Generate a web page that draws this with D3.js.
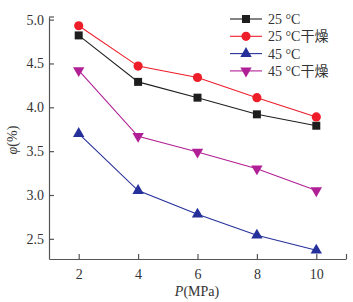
<!DOCTYPE html>
<html>
<head>
<meta charset="utf-8">
<script src="https://cdn.jsdelivr.net/npm/d3@7"></script>
<style>
  body { margin: 0; background: #fff; }
  text { font-family: "Liberation Serif", "Noto Sans CJK SC", serif; fill: #333; }
</style>
</head>
<body>
<script>
// data
var pressures = [2, 4, 6, 8, 10];
var seriesNames = ["25 °C", "25 °C干燥", "45 °C", "45 °C干燥"];
var v25 = [4.82, 4.29, 4.11, 3.92, 3.79];
var v25dry = [4.93, 4.47, 4.34, 4.11, 3.89];
var v45 = [3.70, 3.05, 2.78, 2.54, 2.37];
var v45dry = [4.42, 3.67, 3.49, 3.30, 3.05];
var xTicks = [2, 4, 6, 8, 10];
var yTicks = [2.5, 3.0, 3.5, 4.0, 4.5, 5.0];

var width = 353, height = 302;
var svg = d3.select("body").append("svg")
  .attr("width", width)
  .attr("height", height);

// scales
var x = d3.scaleLinear().domain([1, 11]).range([49, 346]);
var y = d3.scaleLinear().domain([2.27, 5.03]).range([259, 17]);

var axisColor = "#555";

// axes
var xAxis = svg.append("g")
  .attr("transform", "translate(0," + y(2.27) + ")")
  .call(d3.axisBottom(x).tickValues(xTicks.concat([11])).tickSizeInner(-5).tickSizeOuter(0)
    .tickFormat(function (d) { return d === 11 ? "" : d; }));
xAxis.selectAll("text").attr("y", 10).style("font-size", "14px");

var yAxis = svg.append("g")
  .attr("transform", "translate(" + x(1) + ",0)")
  .call(d3.axisLeft(y).tickValues(yTicks).tickSizeInner(-5).tickSizeOuter(0)
    .tickFormat(d3.format(".1f")));
yAxis.selectAll("text").attr("x", -5).style("font-size", "14px");

svg.selectAll(".domain, .tick line").attr("stroke", axisColor).attr("stroke-width", 1.2);
svg.selectAll(".tick text").style("fill", "#333").style("font-family", "Liberation Serif");

// y axis top cap
yAxis.append("line")
  .attr("x1", 0).attr("x2", 5)
  .attr("y1", y(5.03)).attr("y2", y(5.03))
  .attr("stroke", axisColor).attr("stroke-width", 1.2);

// axis titles
var yt = svg.append("text")
  .attr("transform", "translate(17," + 140 + ") rotate(-90)")
  .attr("text-anchor", "middle")
  .style("font-size", "14px");
yt.append("tspan").style("font-style", "italic").text("φ");
yt.append("tspan").text("(%)");

var xt = svg.append("text")
  .attr("x", 197).attr("y", 296)
  .attr("text-anchor", "middle")
  .style("font-size", "14px");
xt.append("tspan").style("font-style", "italic").text("P");
xt.append("tspan").text("(MPa)");

// series
var series = [
  { name: seriesNames[0], values: v25, color: "#1e1e1e", marker: d3.symbolSquare, size: 64, rot: 0 },
  { name: seriesNames[1], values: v25dry, color: "#ee1d2a", marker: d3.symbolCircle, size: 66, rot: 0 },
  { name: seriesNames[2], values: v45, color: "#26309a", marker: d3.symbolTriangle, size: 56, rot: 0 },
  { name: seriesNames[3], values: v45dry, color: "#b01f95", marker: d3.symbolTriangle, size: 56, rot: 180 }
];

var line = d3.line()
  .x(function (d, i) { return x(pressures[i]); })
  .y(function (d) { return y(d); });

series.forEach(function (s) {
  svg.append("path")
    .datum(s.values)
    .attr("d", line)
    .attr("fill", "none")
    .attr("stroke", s.color)
    .attr("stroke-width", 1.1);
  svg.selectAll(null)
    .data(s.values)
    .enter().append("path")
    .attr("d", d3.symbol().type(s.marker).size(s.size))
    .attr("transform", function (d, i) {
      return "translate(" + x(pressures[i]) + "," + y(d) + ") rotate(" + s.rot + ")";
    })
    .attr("fill", s.color);
});

// legend
var legend = svg.append("g").attr("transform", "translate(230,19)");
series.forEach(function (s, i) {
  var g = legend.append("g").attr("transform", "translate(0," + (i * 17.3) + ")");
  g.append("line")
    .attr("x1", 0).attr("x2", 32)
    .attr("stroke", s.color).attr("stroke-width", 1.1);
  g.append("path")
    .attr("d", d3.symbol().type(s.marker).size(s.size))
    .attr("transform", "translate(16,0) rotate(" + s.rot + ")")
    .attr("fill", s.color);
  g.append("text")
    .attr("x", 38).attr("dy", "0.35em")
    .style("font-size", "14px")
    .text(s.name);
});
</script>
</body>
</html>
